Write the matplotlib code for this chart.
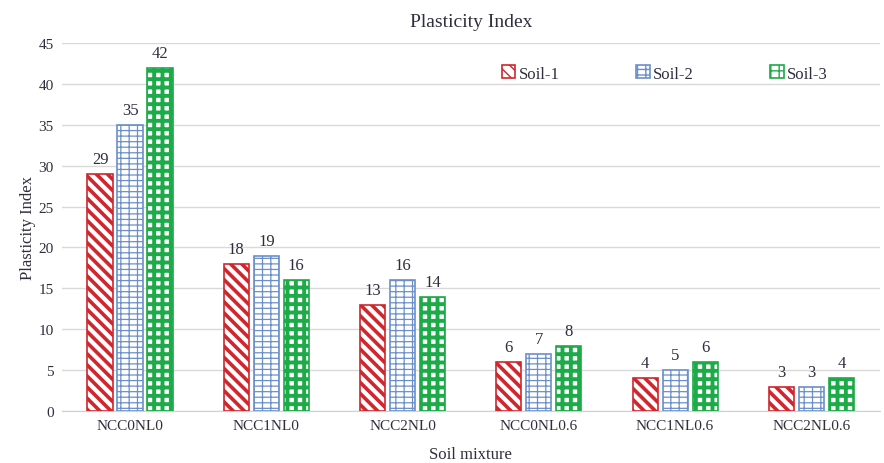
import numpy as np
import matplotlib.pyplot as plt

# Plasticity index of three soils for each soil mixture

mixtures = ["NCC0NL0", "NCC1NL0", "NCC2NL0", "NCC0NL0.6", "NCC1NL0.6", "NCC2NL0.6"]
soil_1 = [29, 18, 13, 6, 4, 3]
soil_2 = [35, 19, 16, 7, 5, 3]
soil_3 = [42, 16, 14, 8, 6, 4]

series = [
    ("Soil-1", soil_1, "#d0262e", "\\\\\\", 2.6),
    ("Soil-2", soil_2, "#6b8fc9", "---||", 0.9),
    ("Soil-3", soil_3, "#1daa48", "++", 2.8),
]

plt.rcParams["font.family"] = ["Liberation Serif", "DejaVu Serif"]
text_color = "#2e2e3e"

fig, ax = plt.subplots(figsize=(8.84, 4.64), dpi=100)
fig.subplots_adjust(left=0.070, right=0.995, bottom=0.112, top=0.905)

x = np.arange(len(mixtures))
width = 0.185
step = 0.22

for k, (name, vals, color, hatch, hlw) in enumerate(series):
    with plt.rc_context({"hatch.linewidth": hlw}):
        bars = ax.bar(x + (k - 1) * step, vals, width, facecolor="white",
                      edgecolor=color, hatch=hatch, linewidth=1.2,
                      label=name, zorder=3)
    ax.bar_label(bars, labels=[str(v) for v in vals], padding=5,
                 fontsize=12, color=text_color)

ax.set_xlim(-0.5, len(mixtures) - 0.5)
ax.set_ylim(0, 45)
ax.set_yticks(np.arange(0, 46, 5))
ax.set_xticks(x)
ax.set_xticklabels(mixtures)
ax.tick_params(length=0, labelsize=11, labelcolor=text_color, pad=6)
ax.grid(axis="y", color="#d9d9d9", linewidth=1, zorder=0)
for side in ["top", "right", "left"]:
    ax.spines[side].set_visible(False)
ax.spines["bottom"].set_color("#d0d0d0")

ax.set_title("Plasticity Index", fontsize=14, color=text_color, pad=12)
ax.set_xlabel("Soil mixture", fontsize=12, color=text_color, labelpad=10)
ax.set_ylabel("Plasticity Index", fontsize=12, color=text_color, labelpad=2)

ax.legend(loc="upper left", bbox_to_anchor=(0.52, 0.98), ncol=3, frameon=False,
          fontsize=12, labelcolor=text_color, handlelength=0.8,
          handleheight=0.8, handletextpad=0.2, columnspacing=4.6)

plt.savefig("out.png", dpi=100)
